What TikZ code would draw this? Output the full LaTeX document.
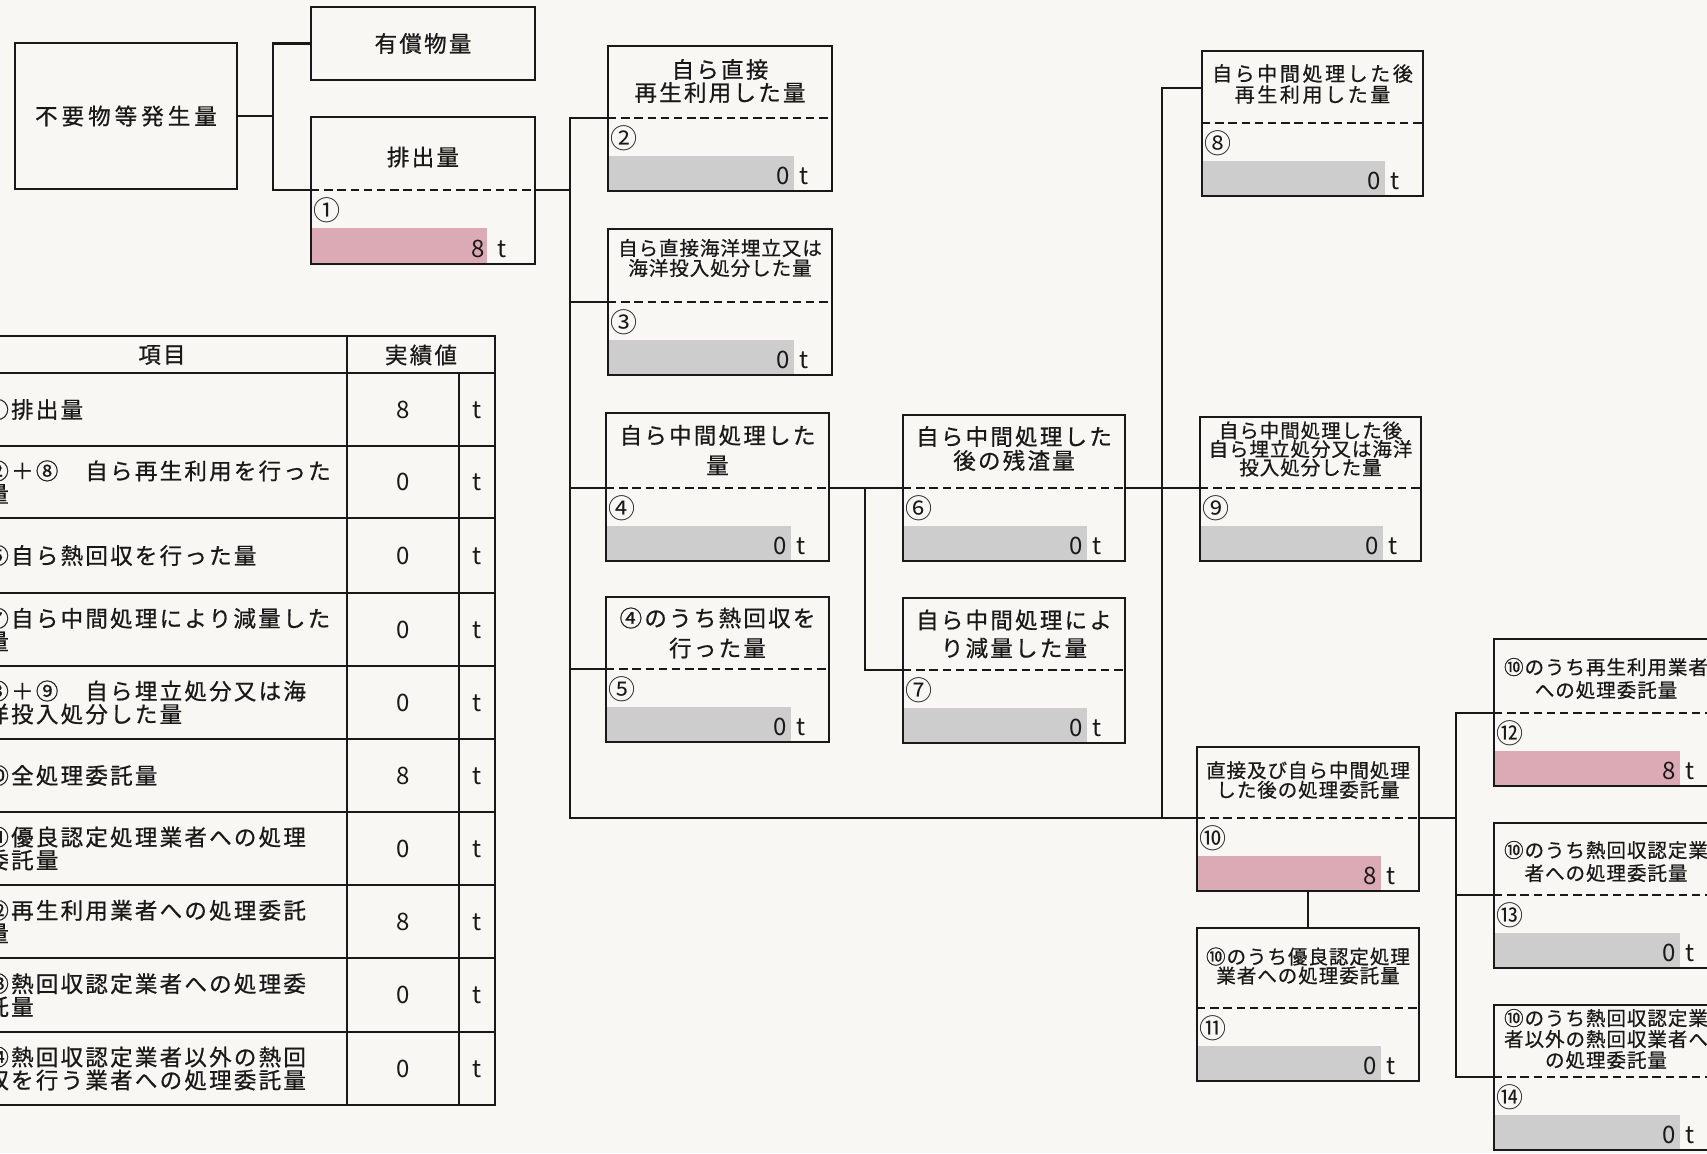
\documentclass[tikz,border=0pt]{standalone}
\usepackage{fontspec}
\setmainfont{Noto Sans CJK JP}
\newfontfamily\jpA[LetterSpace=10,FakeBold=0.7]{Noto Sans CJK JP}
\newfontfamily\jpW[LetterSpace=18,FakeBold=0.7]{Noto Sans CJK JP}
\newfontfamily\jpS[LetterSpace=5,FakeBold=0.7]{Noto Sans CJK JP}
\newfontfamily\jpM[LetterSpace=13,FakeBold=0.7]{Noto Sans CJK JP}
\newfontfamily\jpN{Noto Sans CJK JP}
\definecolor{paper}{RGB}{248,247,243}
\definecolor{linec}{RGB}{25,25,25}
\definecolor{barpink}{RGB}{220,170,180}
\definecolor{bargray}{RGB}{205,205,205}
\tikzset{
 boxst/.style={draw=linec, line width=1.4pt, inner sep=0pt, outer sep=0pt},
 conn/.style={draw=linec, line width=1.3pt},
 dashst/.style={draw=linec, line width=1.1pt, dash pattern=on 4.2pt off 2.4pt},
 tbig/.style={font=\jpA\fontsize{11.25}{#1}\selectfont, align=center, inner sep=0pt, text=linec},
 tbig/.default=13,
 tsmall/.style={font=\jpS\fontsize{9.75}{#1}\selectfont, align=center, inner sep=0pt, text=linec},
 tsmall/.default=11,
 tmid/.style={font=\jpM\fontsize{10}{#1}\selectfont, align=center, inner sep=0pt, text=linec},
 tmid/.default=11,
 numst/.style={font=\jpN\fontsize{13.5}{15}\selectfont, inner sep=0pt, text=linec},
 valst/.style={font=\jpN\fontsize{12}{14}\selectfont, inner sep=0pt, text=linec},
 rowst/.style={font=\jpA\fontsize{11.25}{11.5}\selectfont, align=left, anchor=west, inner sep=0pt, text=linec},
 tbl/.style={draw=linec, line width=1.4pt},
}
% id, L, T, R, D(dash y), number, value, bar colour
\newcommand\qbox[8]{%
  \fill[#8] (#2,{#5+38}) rectangle ({#4-38},{#5+73});
  \node[boxst, minimum width={(#4-#2)*0.5pt}, minimum height={(#5+73-#3)*0.5pt}] (b#1) at ({(#2+#4)/2},{(#3+#5+73)/2}) {};
  \coordinate (b#1dl) at (#2,#5);
  \coordinate (b#1dr) at (#4,#5);
  \draw[dashst] (b#1dl) -- (b#1dr);
  \node[numst, anchor=west] (n#1) at ({#2+2},{#5+20}) {#6};
  \node[valst, anchor=base east] (v#1) at ({#4-42},{#5+66}) {#7};
  \node[valst, anchor=base west] (u#1) at ({#4-33},{#5+66}) {t};
}
\begin{document}
\begin{tikzpicture}[x=0.5pt,y=-0.5pt]
\useasboundingbox (0,0) rectangle (1707,1153);
\clip (0,0) rectangle (1707,1153);
\fill[paper] (0,0) rectangle (1707,1153);

% top-left boxes
\node[boxst, minimum width=111pt, minimum height=73pt, font=\jpW\fontsize{11.25}{13}\selectfont, text=linec] (bA) at (126,116) {不要物等発生量};
\node[boxst, minimum width=112pt, minimum height=36.5pt, font=\jpA\fontsize{11.25}{13}\selectfont, text=linec] (bB) at (423,43.5) {有償物量};

% box 1
\fill[barpink] (311,228) rectangle (487,264);
\node[boxst, minimum width=112pt, minimum height=73.5pt] (b1) at (423,190.5) {};
\coordinate (b1dl) at (311,190);
\coordinate (b1dr) at (535,190);
\draw[dashst] (b1dl) -- (b1dr);
\node[tbig] (t1) at (423,157) {排出量};
\node[numst, anchor=west] (n1) at (313,210) {①};
\node[valst, anchor=base east] (v1) at (485,257) {8};
\node[valst, anchor=base west] (u1) at (497,257) {t};

% data boxes
\qbox{2}{608}{46}{832}{118}{②}{0}{bargray}
\qbox{3}{608}{229}{832}{302}{③}{0}{bargray}
\qbox{4}{606}{413}{829}{488}{④}{0}{bargray}
\qbox{5}{606}{597}{829}{669}{⑤}{0}{bargray}
\qbox{6}{903}{415}{1125}{488}{⑥}{0}{bargray}
\qbox{7}{903}{598}{1125}{670}{⑦}{0}{bargray}
\qbox{8}{1202}{51}{1423}{123}{⑧}{0}{bargray}
\qbox{9}{1200}{417}{1421}{488}{⑨}{0}{bargray}
\qbox{10}{1197}{747}{1419}{818}{⑩}{8}{barpink}
\qbox{11}{1197}{928}{1419}{1008}{⑪}{0}{bargray}
\qbox{12}{1494}{639}{1718}{713}{⑫}{8}{barpink}
\qbox{13}{1494}{823}{1718}{895}{⑬}{0}{bargray}
\qbox{14}{1494}{1005}{1718}{1077}{⑭}{0}{bargray}

% titles
\node[tbig=11.5] (t2) at (720,81) {自ら直接\\再生利用した量};
\node[tsmall=10] (t3) at (720,258) {自ら直接海洋埋立又は\\海洋投入処分した量};
\node[tbig=15] (t4) at (717.5,450) {自ら中間処理した\\量};
\node[tbig=15] (t5) at (717.5,633) {④のうち熱回収を\\行った量};
\node[tbig=12] (t6) at (1014,448.5) {自ら中間処理した\\後の残渣量};
\node[tbig=14] (t7) at (1014,634) {自ら中間処理によ\\り減量した量};
\node[tmid=10.5] (t8) at (1312.5,84) {自ら中間処理した後\\再生利用した量};
\node[tsmall=9.25] (t9) at (1310.5,449) {自ら中間処理した後\\自ら埋立処分又は海洋\\投入処分した量};
\node[tsmall=9.75] (t10) at (1308,780) {直接及び自ら中間処理\\した後の処理委託量};
\node[tsmall=9.5] (t11) at (1308,966) {⑩のうち優良認定処理\\業者への処理委託量};
\node[tsmall=11.5] (t12) at (1606,678.5) {⑩のうち再生利用業者\\への処理委託量};
\node[tsmall=11.5] (t13) at (1606,861.5) {⑩のうち熱回収認定業\\者への処理委託量};
\node[tsmall=10.5] (t14) at (1606,1039) {⑩のうち熱回収認定業\\者以外の熱回収業者へ\\の処理委託量};

% connectors
\coordinate (jA) at (273,116);
\draw[conn] (bA.east) -- (jA);
\draw[conn] (bB.west) -| (jA |- b1dl) -- (b1dl);
\coordinate (trA) at (570,0);
\draw[conn] (b1dr) -- (b1dr -| trA);
\draw[conn] (b2dl) -| (trA |- b10dl) -- (b10dl);
\draw[conn] (b3dl) -- (b3dl -| trA);
\draw[conn] (b4dl) -- (b4dl -| trA);
\draw[conn] (b5dl) -- (b5dl -| trA);
\draw[conn] (b4dr) -- (b6dl);
\coordinate (trB) at (865,0);
\draw[conn] (b4dr -| trB) |- (b7dl);
\draw[conn] (b6dr) -- (b9dl);
\coordinate (trC) at (1162,0);
\coordinate (b8c) at (1202,88);
\draw[conn] (b8c) -| (trC |- b10dl);
\draw[conn] (b10.south) -- (b11.north);
\coordinate (trD) at (1456,0);
\draw[conn] (b10dr) -- (b10dr -| trD);
\draw[conn] (b12dl) -| (trD |- b14dl) -- (b14dl);
\draw[conn] (b13dl) -- (b13dl -| trD);

% table
\draw[tbl] (-60,336) -- (495,336) -- (495,1105) -- (-60,1105);
\draw[tbl] (347,336) -- (347,1105);
\draw[tbl] (459,373) -- (459,1105);
\foreach \yy in {373,446,518,593,666,739,812,885,958,1032} \draw[tbl] (-60,\yy) -- (495,\yy);
\node[tbig] (h1) at (162,355) {項目};
\node[tbig] (h2) at (421,355) {実績値};
\foreach \nm/\yy/\txt/\vv in {
  1/409.5/{①排出量}/8,
  2/482/{②＋⑧　自ら再生利用を行った\\量}/0,
  3/555.5/{⑤自ら熱回収を行った量}/0,
  4/629.5/{⑦自ら中間処理により減量した\\量}/0,
  5/702.5/{③＋⑨　自ら埋立処分又は海\\洋投入処分した量}/0,
  6/775.5/{⑩全処理委託量}/8,
  7/848.5/{⑪優良認定処理業者への処理\\委託量}/0,
  8/921.5/{⑫再生利用業者への処理委託\\量}/8,
  9/995/{⑬熱回収認定業者への処理委\\託量}/0,
  10/1068.5/{⑭熱回収認定業者以外の熱回\\収を行う業者への処理委託量}/0}{
  \node[rowst] (r\nm) at (-14,\yy) {\txt};
  \node[valst, anchor=base] (rv\nm) at (403,{\yy+8.5}) {\vv};
  \node[valst, anchor=base] (ru\nm) at (477,{\yy+8.5}) {t};
}
\end{tikzpicture}
\end{document}
